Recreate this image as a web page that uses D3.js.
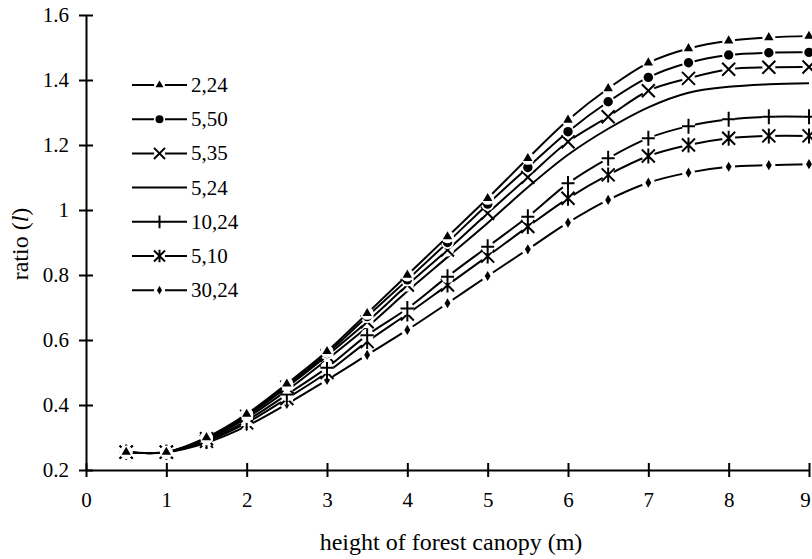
<!DOCTYPE html>
<html>
<head>
<meta charset="utf-8">
<script src="https://cdn.jsdelivr.net/npm/d3@7"></script>
<style>
  body { margin: 0; background: #fff; }
  svg { display: block; font-family: "Liberation Serif", "Times New Roman", serif; }
</style>
</head>
<body>
<svg id="chart" width="812" height="559"></svg>
<script>
// canopy height (m)
const heights = [0.5, 1, 1.5, 2, 2.5, 3, 3.5, 4, 4.5, 5, 5.5, 6, 6.5, 7, 7.5, 8, 8.5, 9];
// ratio values per series
const s2_24  = [0.255, 0.255, 0.300, 0.372, 0.465, 0.565, 0.682, 0.800, 0.918, 1.036, 1.159, 1.277, 1.374, 1.453, 1.497, 1.521, 1.531, 1.535];
const s5_50  = [0.255, 0.255, 0.298, 0.368, 0.460, 0.558, 0.672, 0.785, 0.900, 1.018, 1.131, 1.241, 1.333, 1.408, 1.453, 1.477, 1.484, 1.485];
const s5_35  = [0.255, 0.255, 0.296, 0.365, 0.455, 0.552, 0.656, 0.769, 0.877, 0.990, 1.101, 1.210, 1.287, 1.367, 1.405, 1.433, 1.439, 1.440];
const s5_24  = [0.255, 0.255, 0.293, 0.360, 0.445, 0.540, 0.640, 0.750, 0.855, 0.960, 1.070, 1.170, 1.250, 1.316, 1.361, 1.379, 1.387, 1.390];
const s10_24 = [0.255, 0.255, 0.290, 0.352, 0.432, 0.515, 0.615, 0.697, 0.795, 0.887, 0.979, 1.082, 1.159, 1.221, 1.258, 1.279, 1.287, 1.287];
const s5_10  = [0.255, 0.255, 0.288, 0.345, 0.420, 0.500, 0.595, 0.680, 0.769, 0.858, 0.949, 1.036, 1.108, 1.166, 1.200, 1.221, 1.228, 1.228];
const s30_24 = [0.255, 0.255, 0.284, 0.335, 0.403, 0.477, 0.554, 0.631, 0.713, 0.797, 0.879, 0.961, 1.031, 1.084, 1.115, 1.133, 1.138, 1.141];

const seriesNames = ["2,24", "5,50", "5,35", "5,24", "10,24", "5,10", "30,24"];
const seriesValues = [s2_24, s5_50, s5_35, s5_24, s10_24, s5_10, s30_24];
const seriesMarkers = ["triangle", "circle", "x", "none", "plus", "star", "diamond"];

const xTicks = [0, 1, 2, 3, 4, 5, 6, 7, 8, 9];
const yTicks = [0.2, 0.4, 0.6, 0.8, 1.0, 1.2, 1.4, 1.6];

const svg = d3.select("#chart");
const x = d3.scaleLinear().domain([0, 9]).range([86, 809]);
const y = d3.scaleLinear().domain([0.2, 1.6]).range([470, 15]);

//draw axes
const xAxis = svg.append("g")
    .attr("transform", `translate(0,${y(0.2)})`)
    .call(d3.axisBottom(x).tickValues(xTicks).tickSizeInner(7).tickSizeOuter(0).tickPadding(15).tickFormat(d3.format("d")));
const yAxis = svg.append("g")
    .attr("transform", `translate(${x(0)},0)`)
    .call(d3.axisLeft(y).tickValues(yTicks).tickSizeInner(7).tickSizeOuter(0).tickPadding(10).tickFormat(d => String(+d.toFixed(1))));

[xAxis, yAxis].forEach(g => {
    g.attr("font-family", null).attr("font-size", null);
    g.select(".domain").attr("stroke", "#000").attr("stroke-width", 2);
    g.selectAll(".tick line").attr("stroke", "#000").attr("stroke-width", 2);
    g.selectAll(".tick text").attr("fill", "#000").style("font-size", "21px");
});
xAxis.selectAll(".tick line").attr("y1", -7);//ticks cross the axis
yAxis.selectAll(".tick line").attr("x1", 7);
xAxis.selectAll(".tick text").filter(d => d === 9).attr("dx", -4);//keep last label inside

//axis titles
svg.append("text")
    .attr("x", 451).attr("y", 550)
    .attr("text-anchor", "middle").style("font-size", "24px")
    .text("height of forest canopy (m)");
const yt = svg.append("text")
    .attr("transform", "translate(28,244) rotate(-90)")
    .attr("text-anchor", "middle").style("font-size", "24px");
yt.append("tspan").text("ratio (");
yt.append("tspan").style("font-style", "italic").text("l");
yt.append("tspan").text(")");

//marker shapes
function drawMarker(g, type, cx, cy, scale){
    const k = scale || 1;
    if(type === "none") return;
    g.append("circle").attr("cx", cx).attr("cy", cy).attr("r", 6.5 * k).attr("fill", "#fff");
    if(type === "triangle"){
        g.append("path").attr("d", d3.symbol(d3.symbolTriangle, 38 * k * k)()).attr("transform", `translate(${cx},${cy})`).attr("fill", "#000");
    }else if(type === "circle"){
        g.append("circle").attr("cx", cx).attr("cy", cy).attr("r", 4.7 * k).attr("fill", "#000");
    }else if(type === "diamond"){
        g.append("path").attr("d", d3.symbol(d3.symbolDiamond, 30 * k * k)()).attr("transform", `translate(${cx},${cy})`).attr("fill", "#000");
    }else{
        const r = 6.5 * k;
        let d = "";
        if(type === "x" || type === "star") d += `M${-r},${-r}L${r},${r}M${-r},${r}L${r},${-r}`;
        if(type === "plus") d += `M${-r},0L${r},0M0,${-r * 1.15}L0,${r * 1.15}`;
        if(type === "star") d += `M0,${-r * 1.15}L0,${r * 1.15}`;
        g.append("path").attr("d", d).attr("transform", `translate(${cx},${cy})`)
            .attr("fill", "none").attr("stroke", "#000").attr("stroke-width", 2);
    }
}

//series lines + markers
const line = d3.line().x(d => x(d[0])).y(d => y(d[1])).curve(d3.curveCatmullRom.alpha(0.5));
const order = [3, 6, 5, 4, 2, 1, 0];
order.forEach(i => {
    const pts = heights.map((h, j) => [h, seriesValues[i][j]]);
    const g = svg.append("g");
    g.append("path").attr("d", line(pts)).attr("fill", "none").attr("stroke", "#000").attr("stroke-width", 2);
    pts.forEach(p => drawMarker(g, seriesMarkers[i], x(p[0]), y(p[1])));
});

//legend
const legend = svg.append("g");
seriesNames.forEach((name, i) => {
    const ly = 85 + i * 34.2;
    legend.append("line").attr("x1", 132).attr("x2", 187).attr("y1", ly).attr("y2", ly)
        .attr("stroke", "#000").attr("stroke-width", 2);
    drawMarker(legend, seriesMarkers[i], 159.5, ly, 0.85);
    legend.append("text").attr("x", 191).attr("y", ly + 7).style("font-size", "21px").text(name);
});
</script>
</body>
</html>
